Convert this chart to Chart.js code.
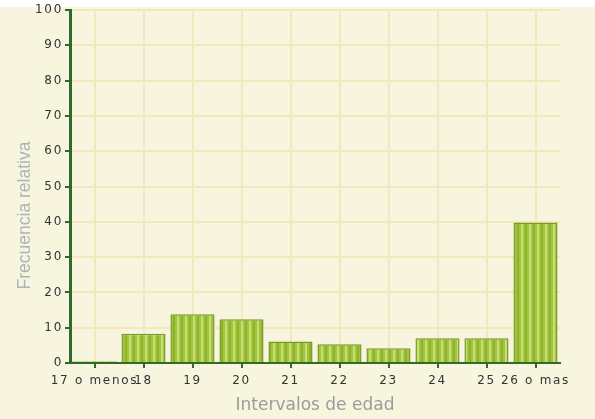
<!DOCTYPE html>
<html>
<head>
<meta charset="utf-8">
<script src="https://cdn.jsdelivr.net/npm/chart.js@4"></script>
<style>
  html, body { margin: 0; padding: 0; background: #ffffff; }
  #wrap { width: 595px; height: 419px; }
</style>
</head>
<body>
<div id="wrap"><canvas id="edadChart" width="595" height="419"></canvas></div>
<script>
// Data
var ageLabels = ["17 o menos", "18", "19", "20", "21", "22", "23", "24", "25", "26 o mas"];
var relFreq = [0.5, 8.3, 13.8, 12.4, 6.1, 5.3, 4.2, 7.0, 7.0, 39.8];
var yTicks = [0, 10, 20, 30, 40, 50, 60, 70, 80, 90, 100];
var xTitle = "Intervalos de edad";
var yTitle = "Frecuencia relativa";

// Striped green fill, to give the bars a bit of the hand drawn look
function makeStripes(ctx) {
    var c = document.createElement("canvas");
    c.width = 8; c.height = 10;
    var p = c.getContext("2d");
    p.fillStyle = "#a2c53b";
    p.fillRect(0, 0, 8, 10);
    p.fillStyle = "#c6de78";
    p.fillRect(1, 0, 2, 10);
    p.fillStyle = "#8db22e";
    p.fillRect(5, 0, 2, 10);
    return ctx.createPattern(c, "repeat");
}

// Cream background with a white strip on top; tick text is a bit stretched in the original
var bgPlugin = {
    id: "bg",
    beforeDraw: function (chart) {
        var ctx = chart.ctx;
        ctx.fillStyle = "#ffffff";
        ctx.fillRect(0, 0, chart.width, chart.height);
        ctx.fillStyle = "#f7f5dd";
        ctx.fillRect(0, 7, chart.width, chart.height - 7);
        ctx.letterSpacing = "1.7px";
    }
};

// Axis titles (the y title sits below the middle of the axis in the original)
var titlesPlugin = {
    id: "titles",
    afterDraw: function (chart) {
        var ctx = chart.ctx;
        var area = chart.chartArea;
        ctx.save();
        ctx.letterSpacing = "0px";
        ctx.textAlign = "center";
        ctx.textBaseline = "middle";

        ctx.fillStyle = "#9a9c9c";
        ctx.font = "17px 'DejaVu Sans'";
        ctx.fillText(xTitle, (area.left + area.right) / 2, area.bottom + 43);

        ctx.translate(area.left - 45, (area.top + area.bottom) / 2 + 29);
        ctx.rotate(-Math.PI / 2);
        ctx.fillStyle = "#aab5b9";
        ctx.font = "17.5px 'Liberation Sans'";
        ctx.fillText(yTitle, 0, 0);
        ctx.restore();
    }
};

var canvas = document.getElementById("edadChart");
var ctx = canvas.getContext("2d");
ctx.letterSpacing = "1.7px";

window.edadChart = new Chart(ctx, {
    type: "bar",
    data: {
        labels: ageLabels,
        datasets: [{
            label: yTitle,
            data: relFreq,
            backgroundColor: makeStripes(ctx),
            borderColor: "#7b9a2c",
            borderWidth: 1.5,
            barPercentage: 0.9,
            categoryPercentage: 1.0
        }]
    },
    options: {
        responsive: false,
        animation: false,
        layout: { padding: { top: 10, right: 35, left: 0, bottom: 0 } },
        plugins: {
            legend: { display: false },
            tooltip: { enabled: false }
        },
        scales: {
            x: {
                grid: {
                    offset: false,
                    color: "#f2e8bb",
                    lineWidth: 2,
                    tickColor: "#2f6a2a",
                    tickLength: 5
                },
                border: { color: "#2f6a2a", width: 2 },
                ticks: {
                    autoSkip: false,
                    maxRotation: 0,
                    minRotation: 0,
                    padding: 6,
                    color: "#333333",
                    font: { family: "DejaVu Sans", size: 12 }
                },
                afterFit: function (s) { s.height = 56; }
            },
            y: {
                min: 0,
                max: 100,
                afterBuildTicks: function (s) {
                    s.ticks = yTicks.map(function (v) { return { value: v }; });
                },
                grid: {
                    color: "#f2e8bb",
                    lineWidth: 2,
                    tickColor: "#2f6a2a",
                    tickLength: 5
                },
                border: { color: "#2f6a2a", width: 3 },
                ticks: {
                    padding: 2,
                    color: "#333333",
                    font: { family: "DejaVu Sans", size: 12 }
                },
                afterFit: function (s) { s.width = 70; }
            }
        }
    },
    plugins: [bgPlugin, titlesPlugin]
});
</script>
</body>
</html>
